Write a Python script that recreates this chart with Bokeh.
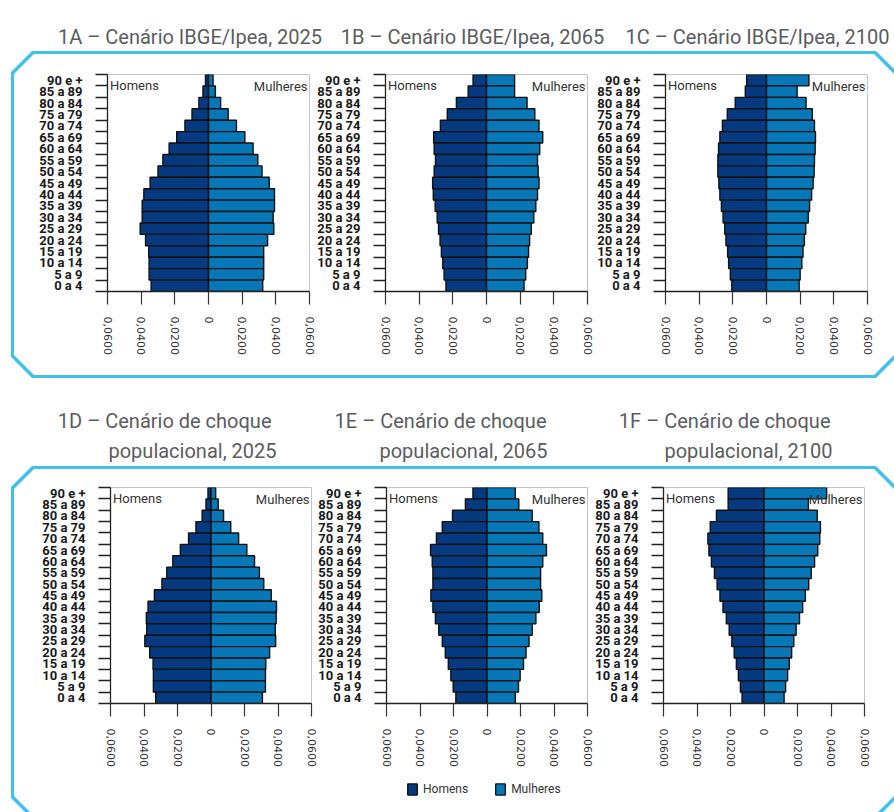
from bokeh.plotting import figure
from bokeh.models import (Range1d, FixedTicker, CustomJSTickFormatter, Label, Legend,
                          LegendItem, Spacer, ColumnDataSource, LinearAxis)
from bokeh.layouts import column, row
from bokeh.embed import file_html
from bokeh.resources import INLINE
from bokeh.core.properties import value

# ---------------- data (top row = "90 e +", bottom row = "0 a 4") ----------------
ages = ["90 e +", "85 a 89", "80 a 84", "75 a 79", "70 a 74", "65 a 69", "60 a 64",
        "55 a 59", "50 a 54", "45 a 49", "40 a 44", "35 a 39", "30 a 34", "25 a 29",
        "20 a 24", "15 a 19", "10 a 14", "5 a 9", "0 a 4"]

homens_1a = [0.0018, 0.0033, 0.0057, 0.0098, 0.0140, 0.0189, 0.0234, 0.0271, 0.0300, 0.0347,
             0.0384, 0.0394, 0.0394, 0.0406, 0.0374, 0.0355, 0.0353, 0.0353, 0.0341]
mulheres_1a = [0.0027, 0.0041, 0.0072, 0.0117, 0.0166, 0.0216, 0.0265, 0.0293, 0.0318, 0.0361,
               0.0392, 0.0392, 0.0384, 0.0388, 0.0351, 0.0328, 0.0328, 0.0328, 0.0322]
homens_1b = [0.0080, 0.0109, 0.0179, 0.0233, 0.0274, 0.0314, 0.0311, 0.0303, 0.0311, 0.0320,
             0.0316, 0.0305, 0.0293, 0.0285, 0.0276, 0.0268, 0.0260, 0.0252, 0.0241]
mulheres_1b = [0.0167, 0.0167, 0.0241, 0.0287, 0.0312, 0.0334, 0.0316, 0.0303, 0.0307, 0.0312,
               0.0303, 0.0293, 0.0281, 0.0266, 0.0256, 0.0250, 0.0243, 0.0233, 0.0223]
homens_1c = [0.0118, 0.0126, 0.0186, 0.0233, 0.0262, 0.0277, 0.0285, 0.0289, 0.0289, 0.0283,
             0.0277, 0.0268, 0.0258, 0.0248, 0.0241, 0.0231, 0.0225, 0.0215, 0.0206]
mulheres_1c = [0.0252, 0.0182, 0.0235, 0.0272, 0.0285, 0.0291, 0.0289, 0.0285, 0.0283, 0.0277,
               0.0268, 0.0256, 0.0248, 0.0233, 0.0225, 0.0217, 0.0210, 0.0200, 0.0194]
homens_1d = [0.0018, 0.0030, 0.0053, 0.0090, 0.0134, 0.0183, 0.0228, 0.0264, 0.0293, 0.0338,
             0.0376, 0.0386, 0.0384, 0.0395, 0.0366, 0.0346, 0.0344, 0.0344, 0.0330]
mulheres_1d = [0.0028, 0.0043, 0.0075, 0.0118, 0.0165, 0.0214, 0.0260, 0.0289, 0.0315, 0.0360,
               0.0391, 0.0389, 0.0384, 0.0386, 0.0350, 0.0327, 0.0325, 0.0325, 0.0307]
homens_1e = [0.0084, 0.0129, 0.0206, 0.0267, 0.0302, 0.0337, 0.0327, 0.0323, 0.0323, 0.0335,
             0.0323, 0.0308, 0.0288, 0.0267, 0.0249, 0.0231, 0.0216, 0.0202, 0.0186]
mulheres_1e = [0.0169, 0.0190, 0.0270, 0.0310, 0.0333, 0.0355, 0.0333, 0.0320, 0.0320, 0.0327,
               0.0312, 0.0292, 0.0270, 0.0251, 0.0233, 0.0218, 0.0198, 0.0188, 0.0169]
homens_1f = [0.0214, 0.0214, 0.0284, 0.0321, 0.0335, 0.0329, 0.0314, 0.0296, 0.0280, 0.0263,
             0.0245, 0.0225, 0.0208, 0.0192, 0.0178, 0.0165, 0.0153, 0.0141, 0.0131]
mulheres_1f = [0.0374, 0.0265, 0.0318, 0.0337, 0.0333, 0.0321, 0.0302, 0.0282, 0.0267, 0.0247,
               0.0231, 0.0212, 0.0192, 0.0178, 0.0165, 0.0151, 0.0141, 0.0129, 0.0120]

x_ticks = [-0.06, -0.04, -0.02, 0.0, 0.02, 0.04, 0.06]
legend_labels = ["Homens", "Mulheres"]

titles_top = ["1A \u2013 Cen\u00e1rio IBGE/Ipea, 2025",
              "1B \u2013 Cen\u00e1rio IBGE/Ipea, 2065",
              "1C \u2013 Cen\u00e1rio IBGE/Ipea, 2100"]
titles_bottom_l1 = ["1D \u2013 Cen\u00e1rio de choque",
                    "1E \u2013 Cen\u00e1rio de choque",
                    "1F \u2013 Cen\u00e1rio de choque"]
titles_bottom_l2 = ["populacional, 2025", "populacional, 2065", "populacional, 2100"]

C_HOM = "#053a80"
C_MUL = "#0678b8"
TITLE_C = "#5b5c5e"
FRAME_C = "#3fc1ec"
BAR_LINE = "#111111"


def make_panel(hom, mul, frame_w, frame_h, left, top, bottom, shift):
    n = len(ages)
    ypos = [n - 1 - i + 0.5 for i in range(n)]
    src = ColumnDataSource(dict(y=ypos, hom=[-v for v in hom], mul=mul, zero=[0.0] * n))
    p = figure(frame_width=frame_w, frame_height=frame_h, x_range=Range1d(-0.06, 0.06),
               y_range=Range1d(0, n), output_backend="svg", toolbar_location=None,
               min_border_left=left, min_border_right=8, min_border_top=top,
               min_border_bottom=bottom, margin=(0, 0, 0, shift))
    p.background_fill_color = "white"
    p.border_fill_color = None
    p.outline_line_color = "#c4c4c4"
    p.outline_line_width = 1
    p.grid.visible = False

    p.hbar(y="y", left="hom", right="zero", height=1.0, source=src,
           fill_color=C_HOM, line_color=BAR_LINE, line_width=1.4)
    p.hbar(y="y", left="zero", right="mul", height=1.0, source=src,
           fill_color=C_MUL, line_color=BAR_LINE, line_width=1.4)

    xa = p.xaxis[0]
    xa.ticker = FixedTicker(ticks=x_ticks)
    xa.formatter = CustomJSTickFormatter(code="""
        if (Math.abs(tick) < 1e-9) { return "0"; }
        return Math.abs(tick).toFixed(4).replace(".", ",");
    """)
    xa.axis_line_color = "#222222"
    xa.axis_line_width = 1.3
    xa.major_tick_out = 13
    xa.major_tick_in = 0
    xa.major_tick_line_color = "#333333"
    xa.major_tick_line_width = 1.2
    xa.minor_tick_line_color = None
    xa.major_label_orientation = "vertical"
    xa.major_label_standoff = 12
    xa.major_label_text_font = "DejaVu Sans"
    xa.major_label_text_font_size = "11px"
    xa.major_label_text_color = "#333333"

    # inner left axis: axis line + tick marks at the boundaries between age groups
    ya = p.yaxis[0]
    ya.ticker = FixedTicker(ticks=[float(i) for i in range(n + 1)])
    ya.formatter = CustomJSTickFormatter(code="return '';")
    ya.axis_line_color = "#222222"
    ya.axis_line_width = 1.3
    ya.major_tick_out = 12
    ya.major_tick_in = 0
    ya.major_tick_line_color = "#222222"
    ya.major_tick_line_width = 1.5
    ya.minor_tick_line_color = None
    ya.major_label_standoff = 0
    ya.major_label_text_font_size = "1px"

    # outer left axis: age-group labels centred on the bars, no line, no ticks
    yl = LinearAxis(ticker=FixedTicker(ticks=[i + 0.5 for i in range(n)]),
                    formatter=CustomJSTickFormatter(args=dict(labels=list(reversed(ages))),
                                                    code="return labels[Math.floor(tick)];"))
    yl.axis_line_color = None
    yl.major_tick_line_color = None
    yl.minor_tick_line_color = None
    yl.major_tick_out = 0
    yl.major_tick_in = 0
    yl.major_label_standoff = 13
    yl.major_label_text_font = "Roboto"
    yl.major_label_text_font_style = "bold"
    yl.major_label_text_font_size = "13px"
    yl.major_label_text_color = "#1a1a1a"
    p.add_layout(yl, "left")

    p.add_layout(Label(x=-0.0585, y=18.05, text="Homens", text_align="left",
                       text_baseline="middle", text_font="Roboto", text_font_size="13px",
                       text_color="#333333"))
    p.add_layout(Label(x=0.0588, y=17.95, text="Mulheres", text_align="right",
                       text_baseline="middle", text_font="Roboto", text_font_size="13px",
                       text_color="#333333"))
    return p


def legend_fig(width, height, loc):
    lf = figure(width=width, height=height, x_range=Range1d(0, 1), y_range=Range1d(0, 1),
                output_backend="svg", toolbar_location=None, min_border=0,
                x_axis_type=None, y_axis_type=None)
    lf.grid.visible = False
    lf.outline_line_color = None
    lf.background_fill_color = None
    lf.border_fill_color = None
    # legend-only swatch renderers: a single zero-width bar placed outside the visible range
    swatch = ColumnDataSource(dict(y=[-5.0], l=[0.0], r=[0.0]))
    r1 = lf.hbar(y="y", left="l", right="r", height=1, source=swatch,
                 fill_color=C_HOM, line_color=BAR_LINE, line_width=1.3)
    r2 = lf.hbar(y="y", left="l", right="r", height=1, source=swatch,
                 fill_color=C_MUL, line_color=BAR_LINE, line_width=1.3)
    lg = Legend(items=[LegendItem(label=legend_labels[0], renderers=[r1]),
                       LegendItem(label=legend_labels[1], renderers=[r2])],
                location=loc, orientation="horizontal", margin=0, padding=0,
                border_line_color=None, background_fill_alpha=0,
                glyph_width=12, glyph_height=14, label_height=14, label_standoff=5,
                spacing=26, label_text_font="Roboto", label_text_font_size="12px",
                label_text_color="#333333")
    lf.add_layout(lg)
    return lf


def title_fig(h, xs, ys, texts, align):
    t = figure(width=886, height=h, x_range=Range1d(0, 886), y_range=Range1d(0, h),
               output_backend="svg", toolbar_location=None, min_border=0,
               x_axis_type=None, y_axis_type=None)
    t.grid.visible = False
    t.outline_line_color = None
    t.background_fill_color = None
    t.border_fill_color = None
    t.text(x=xs, y=ys, text=texts, text_align=align, text_baseline="alphabetic",
           text_font=value("Roboto"), text_font_size="20px", text_color=TITLE_C)
    return t


def chamfer(c):
    return ("polygon({c}px 0, calc(100% - {c}px) 0, 100% {c}px, 100% calc(100% - {c}px), "
            "calc(100% - {c}px) 100%, {c}px 100%, 0 calc(100% - {c}px), 0 {c}px)").format(c=c)


def framed(content):
    inner = column(content, styles={"background-color": "white", "clip-path": chamfer(20)})
    outer = column(inner, styles={"background-color": FRAME_C, "clip-path": chamfer(21),
                                  "padding": "3px"})
    return row(Spacer(width=3, height=1), outer)


# ---------------- top row ----------------
t1 = title_fig(43, [181.5, 464, 749], [15, 15, 15], titles_top, "center")

fa = make_panel(homens_1a, mulheres_1a, 205, 217, 93, 20, 84, 0)
fb = make_panel(homens_1b, mulheres_1b, 205, 217, 93, 20, 84, -26)
fc = make_panel(homens_1c, mulheres_1c, 205, 217, 93, 20, 84, -23)
box1 = framed(row(fa, fb, fc, Spacer(width=18, height=321)))

# ---------------- bottom row ----------------
t2 = title_fig(88, [263, 268, 538, 539, 822, 824], [46, 16, 46, 16, 46, 16],
               [titles_bottom_l1[0], titles_bottom_l2[0], titles_bottom_l1[1],
                titles_bottom_l2[1], titles_bottom_l1[2], titles_bottom_l2[2]], "right")

fd = make_panel(homens_1d, mulheres_1d, 204, 216, 96, 18, 70, 0)
fe = make_panel(homens_1e, mulheres_1e, 204, 216, 96, 18, 70, -30)
ff = make_panel(homens_1f, mulheres_1f, 204, 216, 96, 18, 70, -28)
lf = legend_fig(860, 31, (392, 8))
box2 = framed(column(row(fd, fe, ff, Spacer(width=21, height=304)), lf,
                     Spacer(width=860, height=12)))

content = column(t1, box1, t2, box2, width=886, height=804, styles={"overflow": "hidden"})
root = column(Spacer(width=894, height=8), row(Spacer(width=8, height=804), content))

open("out.html", "w").write(file_html(root, INLINE))
